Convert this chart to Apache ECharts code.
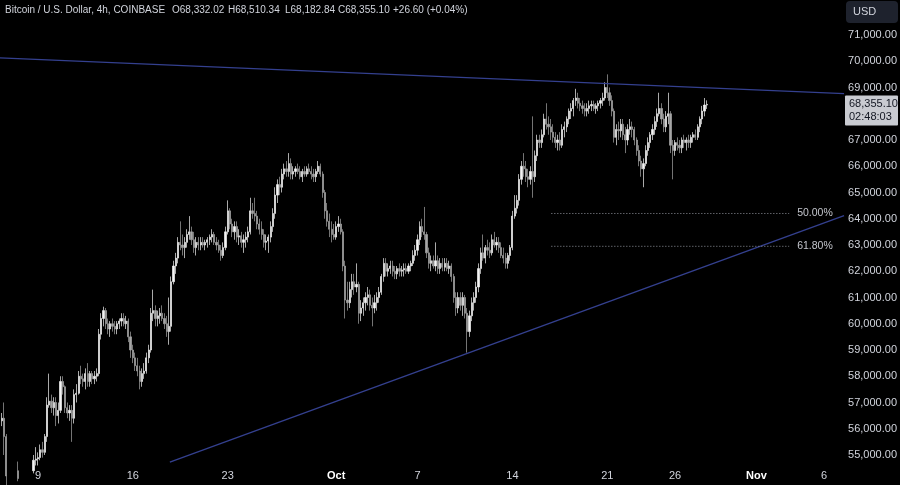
<!DOCTYPE html>
<html><head><meta charset="utf-8">
<script src="https://cdn.jsdelivr.net/npm/echarts@6/dist/echarts.min.js"></script>
<style>html,body{margin:0;padding:0;background:#000;}#c{width:900px;height:485px;}</style>
</head><body><div id="c"></div>
<script>
// 4h bars, first bar opens 2024-09-06 08:00 UTC
const FIRST_BAR = Date.UTC(2024, 8, 6, 8, 0);
const BAR_MS = 4 * 3600 * 1000;
// each bar: [open, high, low, close] in thousands of USD
const barsSep06to12 = [
 [56.3,56.6,56.1,56.4],[56.4,57.0,55.0,55.7],[55.7,55.8,53.8,54.2],[54.2,54.4,52.6,53.95],
 [53.95,54.3,53.7,54.1],[54.1,54.4,53.9,54.2],[54.2,54.5,54.0,54.4],[54.4,54.75,54.0,54.1],[54.1,54.3,53.8,54.05],[54.05,54.4,53.9,54.15],
 [54.15,54.3,53.7,53.9],[53.9,54.2,53.6,54.0],[54.0,54.5,53.9,54.3],[54.3,54.6,54.1,54.4],[54.4,55.0,54.3,54.8],[54.8,55.3,54.6,54.85],
 [54.85,55.1,54.6,54.9],[54.9,55.4,54.8,55.2],[55.2,55.5,54.9,55.1],[55.1,55.8,55.0,55.7],[55.7,57.2,55.5,56.9],[56.9,58.1,56.8,57.05],
 [57.05,57.3,56.6,56.8],[56.8,57.2,56.5,57.0],[57.0,57.2,56.1,56.5],[56.5,57.0,56.2,56.7],[56.7,58.0,56.6,57.8],[57.8,58.0,57.3,57.6],
 [57.6,57.65,56.6,56.8],[56.8,57.0,56.4,56.6],[56.6,56.9,56.3,56.7],[56.7,56.9,55.5,56.4],[56.4,57.5,56.2,57.3],[57.3,57.7,57.0,57.35],
 [57.35,58.2,57.3,58.0],[58.0,58.4,57.7,57.9],[57.9,58.1,57.6,57.8],[57.8,58.3,57.5,58.1],[58.1,58.5,57.6,57.8],[57.8,58.2,57.6,58.1]
];
const barsSep13to19 = [
 [58.1,58.2,57.7,57.9],[57.9,58.2,57.7,58.0],[58.0,58.3,57.8,58.1],[58.1,59.8,58.0,59.6],[59.6,60.4,59.4,60.2],[60.2,60.65,59.9,60.5],
 [60.5,60.6,59.8,60.0],[60.0,60.2,59.6,59.8],[59.8,60.1,59.5,60.0],[60.0,60.2,59.7,59.9],[59.9,60.1,59.6,59.8],[59.8,60.1,59.6,60.0],
 [60.0,60.2,59.8,60.1],[60.1,60.4,59.9,60.2],[60.2,60.4,59.9,60.0],[60.0,60.3,59.8,60.1],[60.1,60.2,59.3,59.5],[59.5,59.7,58.7,59.0],
 [59.0,59.2,58.5,58.7],[58.7,58.9,58.2,58.4],[58.4,58.7,58.0,58.2],[58.2,58.4,57.5,57.8],[57.8,58.3,57.6,58.1],[58.1,58.5,57.9,58.2],
 [58.2,58.9,58.1,58.7],[58.7,59.2,58.5,59.0],[59.0,60.6,58.9,60.4],[60.4,61.3,60.1,60.5],[60.5,60.7,59.9,60.2],[60.2,60.5,59.9,60.3],
 [60.3,60.6,60.0,60.4],[60.4,60.7,60.1,60.2],[60.2,60.4,59.8,60.0],[60.0,60.3,59.5,59.7],[59.7,61.0,59.2,59.9],[59.9,61.8,59.7,61.6],
 [61.6,62.4,61.5,62.2],[62.2,62.7,61.9,62.5],[62.5,63.3,62.3,63.1],[63.1,63.9,62.8,63.0],[63.0,63.4,62.6,62.9],[62.9,63.3,62.5,63.1]
];
const barsSep20to26 = [
 [63.1,63.6,62.9,63.4],[63.4,64.1,63.2,63.5],[63.5,63.7,63.0,63.2],[63.2,63.5,62.7,62.9],[62.9,63.3,62.6,63.1],[63.1,63.3,62.8,63.0],
 [63.0,63.3,62.8,63.1],[63.1,63.3,62.9,63.0],[63.0,63.2,62.8,63.1],[63.1,63.3,62.9,63.2],[63.2,63.4,63.0,63.3],[63.3,63.6,63.1,63.4],
 [63.4,63.5,63.0,63.1],[63.1,63.3,62.8,63.0],[63.0,63.2,62.7,62.8],[62.8,63.0,62.4,62.6],[62.6,63.1,62.5,62.9],[62.9,63.7,62.8,63.5],
 [63.5,64.7,63.4,64.3],[64.3,64.4,63.6,63.8],[63.8,64.0,63.3,63.5],[63.5,63.9,63.2,63.7],[63.7,63.9,63.1,63.3],[63.3,63.6,63.0,63.35],
 [63.35,63.5,62.9,63.1],[63.1,63.4,62.7,63.2],[63.2,63.5,62.9,63.3],[63.3,63.7,63.1,63.5],[63.5,64.8,63.4,64.3],[64.3,64.6,64.0,64.2],
 [64.2,64.8,63.9,64.1],[64.1,64.3,63.6,63.8],[63.8,64.0,63.4,63.6],[63.6,63.9,63.2,63.4],[63.4,63.6,62.9,63.1],[63.1,63.4,62.8,63.15],
 [63.15,63.4,62.7,63.3],[63.3,63.9,63.1,63.7],[63.7,64.4,63.5,64.2],[64.2,65.2,64.0,64.9],[64.9,65.5,64.6,65.3],[65.3,65.6,64.9,65.2]
];
const barsSep27toOct03 = [
 [65.2,65.9,65.0,65.7],[65.7,66.1,65.5,65.9],[65.9,66.2,65.6,65.8],[65.8,66.5,65.6,66.1],[66.1,66.3,65.5,65.7],[65.7,66.0,65.5,65.8],
 [65.8,66.0,65.6,65.9],[65.9,66.1,65.7,65.8],[65.8,66.0,65.5,65.6],[65.6,65.9,65.4,65.8],[65.8,66.0,65.6,65.7],[65.7,66.0,65.6,65.9],
 [65.9,66.1,65.7,65.8],[65.8,66.0,65.5,65.7],[65.7,65.9,65.4,65.6],[65.6,65.9,65.4,65.8],[65.8,66.2,65.7,66.0],[66.0,66.1,65.6,65.7],
 [65.7,65.8,64.8,65.0],[65.0,65.1,64.0,64.3],[64.3,64.6,63.7,63.9],[63.9,64.2,63.3,63.6],[63.6,63.9,63.1,63.4],[63.4,63.8,63.2,63.3],
 [63.3,63.9,63.2,63.7],[63.7,64.1,63.5,63.8],[63.8,64.0,63.4,63.5],[63.5,63.6,62.0,62.2],[62.2,62.4,60.2,60.9],[60.9,61.6,60.5,60.8],
 [60.8,61.6,60.6,61.3],[61.3,61.9,61.0,61.6],[61.6,61.9,61.1,61.4],[61.4,62.3,61.2,61.5],[61.5,61.6,60.0,60.4],[60.4,60.9,60.1,60.6],
 [60.6,61.0,60.3,60.8],[60.8,61.2,60.5,61.0],[61.0,61.4,60.7,61.1],[61.1,61.3,60.5,60.7],[60.7,61.0,59.9,60.6],[60.6,61.1,60.4,60.8]
];
const barsOct04to10 = [
 [60.8,61.2,60.5,61.0],[61.0,61.4,60.8,61.2],[61.2,61.9,61.1,61.8],[61.8,62.5,61.6,62.3],[62.3,62.5,61.8,62.0],[62.0,62.3,61.8,62.1],
 [62.1,62.4,61.9,62.2],[62.2,62.4,61.8,62.0],[62.0,62.2,61.7,61.9],[61.9,62.2,61.7,62.1],[62.1,62.3,61.8,62.0],[62.0,62.2,61.8,62.05],
 [62.05,62.3,61.8,62.1],[62.1,62.3,61.9,62.0],[62.0,62.3,61.9,62.2],[62.2,62.4,62.0,62.3],[62.3,62.8,62.2,62.6],[62.6,63.0,62.4,62.8],
 [62.8,63.4,62.6,63.2],[63.2,63.9,63.0,63.7],[63.7,64.0,63.3,63.5],[63.5,64.45,63.2,63.4],[63.4,63.5,62.5,62.7],[62.7,62.9,62.1,62.3],
 [62.3,62.6,62.0,62.4],[62.4,62.6,62.1,62.2],[62.2,63.1,62.0,62.4],[62.4,62.6,61.9,62.1],[62.1,62.5,61.9,62.3],[62.3,62.5,62.0,62.15],
 [62.15,62.5,62.0,62.3],[62.3,62.5,62.0,62.1],[62.1,62.4,61.9,62.2],[62.2,62.3,61.6,61.8],[61.8,61.9,60.8,61.0],[61.0,61.2,60.3,60.6],
 [60.6,61.2,60.4,61.0],[61.0,61.2,60.5,60.7],[60.7,61.2,60.3,61.0],[61.0,61.1,60.2,60.4],[60.4,60.6,58.9,59.7],[59.7,60.5,59.5,60.3]
];
const barsOct11to17 = [
 [60.3,61.0,60.1,60.8],[60.8,61.2,60.5,61.0],[61.0,61.6,60.8,61.4],[61.4,62.3,61.2,62.1],[62.1,62.9,61.9,62.7],[62.7,63.4,62.4,62.5],
 [62.5,63.0,62.3,62.9],[62.9,63.2,62.6,62.8],[62.8,63.1,62.5,62.7],[62.7,63.4,62.6,63.2],[63.2,63.5,62.9,63.0],[63.0,63.3,62.8,63.1],
 [63.1,63.3,62.7,62.9],[62.9,63.1,62.5,62.6],[62.6,62.9,62.3,62.5],[62.5,62.7,62.1,62.3],[62.3,62.7,62.1,62.6],[62.6,63.0,62.4,62.9],
 [62.9,64.3,62.8,64.1],[64.1,64.9,64.0,64.4],[64.4,64.9,64.2,64.7],[64.7,65.7,64.5,65.5],[65.5,66.2,65.3,66.0],[66.0,66.5,65.6,65.9],
 [65.9,66.2,65.4,65.6],[65.6,65.9,65.2,65.5],[65.5,66.0,65.3,65.8],[65.8,67.9,64.8,65.6],[65.6,66.6,65.4,66.4],[66.4,67.2,66.2,67.0],
 [67.0,67.2,66.7,66.9],[66.9,67.4,66.7,67.2],[67.2,68.0,67.1,67.8],[67.8,68.4,67.4,67.6],[67.6,67.9,67.2,67.5],[67.5,67.8,67.0,67.3],
 [67.3,67.6,66.9,67.1],[67.1,67.3,66.7,66.9],[66.9,67.2,66.6,67.0],[67.0,67.3,66.6,66.8],[66.8,67.6,66.7,67.4],[67.4,67.7,67.1,67.5]
];
const barsOct18to24 = [
 [67.5,67.9,67.3,67.8],[67.8,68.2,67.6,68.1],[68.1,68.4,67.8,68.2],[68.2,68.6,67.9,68.5],[68.5,68.95,68.3,68.6],[68.6,68.8,68.2,68.4],
 [68.4,68.6,68.1,68.3],[68.3,68.5,68.0,68.2],[68.2,68.4,67.9,68.1],[68.1,68.4,67.9,68.2],[68.2,68.5,68.0,68.3],[68.3,68.5,68.1,68.35],
 [68.35,68.5,68.1,68.2],[68.2,68.4,68.0,68.3],[68.3,68.5,68.1,68.4],[68.4,68.6,68.2,68.5],[68.5,68.8,68.3,68.6],[68.6,69.2,68.5,69.0],
 [69.0,69.5,68.6,68.8],[68.8,69.0,68.3,68.5],[68.5,68.7,67.9,68.1],[68.1,68.2,66.9,67.1],[67.1,67.6,66.8,67.4],[67.4,67.7,67.0,67.35],
 [67.35,67.8,67.1,67.6],[67.6,67.8,67.0,67.2],[67.2,67.5,66.5,67.0],[67.0,67.6,66.8,67.4],[67.4,67.8,67.2,67.5],[67.5,67.7,67.1,67.4],
 [67.4,67.5,66.8,67.0],[67.0,67.1,66.4,66.6],[66.6,66.8,66.0,66.2],[66.2,66.4,65.6,65.9],[65.9,66.3,65.2,66.1],[66.1,66.8,66.0,66.6],
 [66.6,67.1,66.4,66.9],[66.9,67.3,66.7,67.2],[67.2,67.6,67.0,67.4],[67.4,67.9,67.2,67.7],[67.7,68.2,67.5,68.0],[68.0,68.8,67.9,68.2]
];
const barsOct25to28 = [
 [68.2,68.4,67.6,67.8],[67.8,68.0,67.3,67.5],[67.5,68.1,67.3,67.9],[67.9,68.8,67.6,68.0],[68.0,68.1,66.5,66.8],[66.8,67.0,65.5,66.6],
 [66.6,67.0,66.4,66.9],[66.9,67.1,66.6,66.8],[66.8,67.0,66.5,66.7],[66.7,67.1,66.5,67.0],[67.0,67.2,66.7,66.9],[66.9,67.1,66.6,67.0],
 [67.0,67.2,66.7,66.9],[66.9,67.2,66.7,67.1],[67.1,67.3,66.9,67.2],[67.2,67.4,67.0,67.1],[67.1,67.6,67.0,67.5],[67.5,67.9,67.3,67.8],
 [67.8,68.3,67.6,68.1],[68.1,68.6,67.9,68.33202],[68.33202,68.51034,68.18284,68.3551]
];

const yTickValues = [71000,70000,69000,67000,66000,65000,64000,63000,62000,61000,60000,59000,58000,57000,56000,55000];
const xTickDates = ['2024-09-09','2024-09-16','2024-09-23','2024-10-01','2024-10-07','2024-10-14','2024-10-21','2024-10-26','2024-11-01','2024-11-06'];
const monthNames = ['Jan','Feb','Mar','Apr','May','Jun','Jul','Aug','Sep','Oct','Nov','Dec'];
const upperTrend = [['2024-09-06T04:48:00Z', 70130], ['2024-11-07T11:16:00Z', 68770]];
const lowerTrend = [['2024-09-18T17:30:00Z', 54730], ['2024-11-07T11:16:00Z', 64120]];
const fibLabels = ['50.00%', '61.80%'];
const fibPrices = [64200, 62950];
const fibSpan = ['2024-10-16T21:00:00Z', '2024-11-03T10:00:00Z'];
const headerTexts = ['Bitcoin / U.S. Dollar, 4h, COINBASE', 'O68,332.02', 'H68,510.34', 'L68,182.84', 'C68,355.10', '+26.60 (+0.04%)'];
const countdown = '02:48:03';
const currency = 'USD';

const allBars = [].concat(barsSep06to12, barsSep13to19, barsSep20to26, barsSep27toOct03,
  barsOct04to10, barsOct11to17, barsOct18to24, barsOct25to28);
const candleData = allBars.map((b, i) => [FIRST_BAR + i * BAR_MS, b[0] * 1000, b[3] * 1000, b[2] * 1000, b[1] * 1000]);
const lastClose = allBars[allBars.length - 1][3] * 1000;
const toMs = s => Date.parse(s);
const pts = arr => arr.map(p => [toMs(p[0]), p[1]]);

const FONT = '"Liberation Sans", Arial, sans-serif';
const TXT = '#d1d4dc';
const fmtPrice = v => Number(v).toLocaleString('en-US', {minimumFractionDigits: 2, maximumFractionDigits: 2});

const chart = echarts.init(document.getElementById('c'), null, {renderer: 'canvas'});
const fibSeries = fibPrices.map((p, k) => ({
  type: 'line', silent: true, symbol: 'none', animation: false,
  data: [[toMs(fibSpan[0]), p], [toMs(fibSpan[1]), p]],
  lineStyle: {color: '#8f929b', width: 1, type: [1, 2]},
  endLabel: {show: true, formatter: fibLabels[k], color: '#c3c5cc', fontSize: 10.5, fontFamily: FONT, distance: 8}
}));

chart.setOption({
  backgroundColor: '#000000',
  animation: false,
  grid: {left: 0, right: 55, top: 0, bottom: 21},
  xAxis: {
    type: 'value',
    min: Date.UTC(2024, 8, 6, 4, 48), max: Date.UTC(2024, 10, 7, 11, 16),
    axisLine: {show: false}, axisTick: {show: false}, splitLine: {show: false},
    axisLabel: {
      customValues: xTickDates.map(d => toMs(d + 'T00:00:00Z')),
      color: TXT, fontSize: 11, fontFamily: FONT, margin: 6,
      formatter: v => { const d = new Date(v); return d.getUTCDate() === 1 ? '{m|' + monthNames[d.getUTCMonth()] + '}' : String(d.getUTCDate()); },
      rich: {m: {color: '#ffffff', fontSize: 11, fontFamily: FONT, fontWeight: 'bold'}}
    }
  },
  yAxis: {
    type: 'value', position: 'right', min: 54657, max: 72333,
    axisLine: {show: false}, axisTick: {show: false}, splitLine: {show: false},
    axisLabel: {customValues: yTickValues, color: TXT, fontSize: 11, fontFamily: FONT, margin: 4, formatter: fmtPrice}
  },
  series: [
    {type: 'line', silent: true, symbol: 'none', data: pts(upperTrend), lineStyle: {color: '#34408f', width: 1.3}},
    {type: 'line', silent: true, symbol: 'none', data: pts(lowerTrend), lineStyle: {color: '#34408f', width: 1.3}},
    ...fibSeries,
    {
      type: 'candlestick', data: candleData, barWidth: 1.7, clip: true,
      itemStyle: {color: '#f4f4f4', color0: '#a6a6a6', borderColor: '#f4f4f4', borderColor0: '#a6a6a6', borderWidth: 0.7}
    }
  ]
});

const py = chart.convertToPixel({yAxisIndex: 0}, lastClose);
const hx = [5, 172, 228, 285, 338, 393];
chart.setOption({
  graphic: [
    ...headerTexts.map((t, i) => ({type: 'text', left: hx[i], top: 5, style: {text: t, fill: TXT, font: '10px ' + FONT}})),
    {type: 'rect', shape: {x: 846, y: 1, width: 52, height: 22, r: 4}, style: {fill: '#1e222d'}},
    {type: 'text', x: 853, y: 12, style: {text: currency, fill: TXT, font: '11px ' + FONT, textVerticalAlign: 'middle'}},
    {type: 'rect', shape: {x: 845, y: py - 9, width: 53, height: 30, r: 1}, style: {fill: '#c9cbd1'}},
    {type: 'text', x: 849, y: py, style: {text: fmtPrice(lastClose), fill: '#131722', font: '11px ' + FONT, textVerticalAlign: 'middle'}},
    {type: 'text', x: 849, y: py + 13, style: {text: countdown, fill: '#131722', font: '11px ' + FONT, textVerticalAlign: 'middle'}}
  ]
});
</script></body></html>
